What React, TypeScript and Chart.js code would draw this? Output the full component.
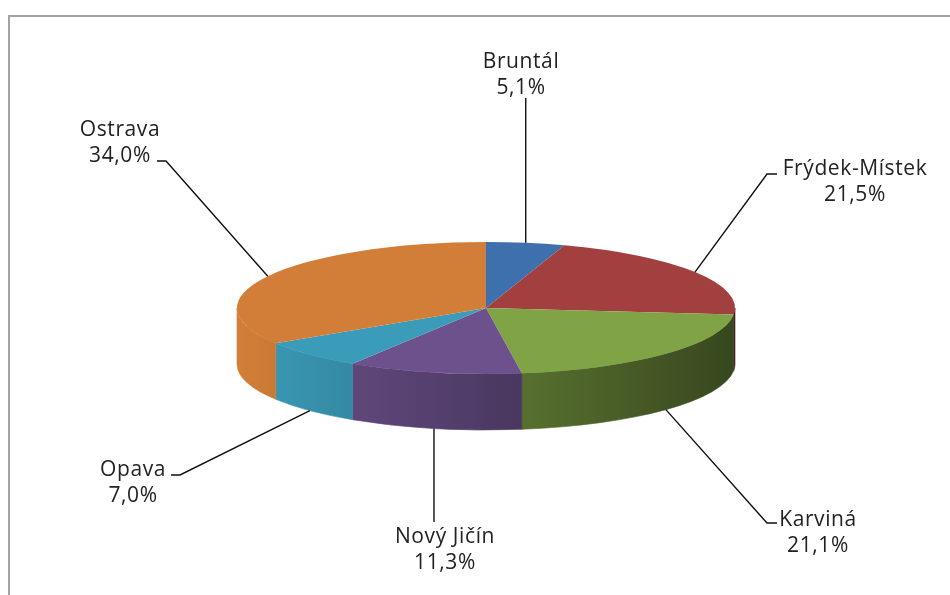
import React, { useEffect, useRef } from "react";
import { Chart, registerables } from "chart.js";

Chart.register(...registerables);

const categories = ["Bruntál", "Frýdek-Místek", "Karviná", "Nový Jičín", "Opava", "Ostrava"];
const shares = [5.1, 21.5, 21.1, 11.3, 7.0, 34.0];
const topColors = ["#3F70AE", "#A2403F", "#80A445", "#6C518C", "#3B9CBA", "#D27E38"];

// label layout (text centre x, first baseline y, leader points from text to slice)
const labelLayout = [
  { x: 521, y: 68, leader: [["a", 98]] },
  { x: 855, y: 175, leader: [[777, 174], [767, 174]] },
  { x: 818, y: 526, leader: [[777, 523], [767, 523]] },
  { x: 445, y: 543, leader: [["a", 522]] },
  { x: 133, y: 476, leader: [[171, 475], [180, 475]] },
  { x: 120, y: 136, leader: [[157, 161], [166, 161]] },
];

const TILT = 66 / 249;
const DEPTH = 56;

function hexToRgb(h: string) {
  const n = parseInt(h.slice(1), 16);
  return [(n >> 16) & 255, (n >> 8) & 255, n & 255];
}
function shade(h: string, f: number) {
  const [r, g, b] = hexToRgb(h);
  return `rgb(${Math.round(r * f)},${Math.round(g * f)},${Math.round(b * f)})`;
}

const pie3d = {
  id: "pie3d",
  beforeDraw(chart: any) {
    const ctx = chart.ctx;
    ctx.save();
    ctx.strokeStyle = "#a3a3a3";
    ctx.lineWidth = 2;
    ctx.beginPath();
    ctx.moveTo(9, 595);
    ctx.lineTo(9, 16);
    ctx.lineTo(950, 16);
    ctx.stroke();
    ctx.restore();
  },
  beforeDatasetsDraw(chart: any) {
    const ctx = chart.ctx;
    const meta = chart.getDatasetMeta(0);
    const a0 = meta.data[0];
    const cx = a0.x, cy = a0.y, r = a0.outerRadius;
    const ry = r * TILT;
    ctx.save();
    meta.data.forEach((arc: any, i: number) => {
      const s = Math.max(arc.startAngle, 0);
      const e = Math.min(arc.endAngle, Math.PI);
      if (e <= s) return;
      const g = ctx.createLinearGradient(cx - r, 0, cx + r, 0);
      for (let k = 0; k <= 10; k++) {
        const t = k / 10;
        g.addColorStop(t, shade(topColors[i], 1.0 - 0.57 * Math.pow(t, 1.05)));
      }
      ctx.beginPath();
      ctx.ellipse(cx, cy, r, ry, 0, s, e, false);
      ctx.ellipse(cx, cy + DEPTH, r, ry, 0, e, s, true);
      ctx.closePath();
      ctx.fillStyle = g;
      ctx.fill();
      ctx.strokeStyle = g;
      ctx.lineWidth = 0.6;
      ctx.stroke();
    });
    ctx.restore();
    ctx.save();
    ctx.translate(cx, cy);
    ctx.scale(1, TILT);
    ctx.translate(-cx, -cy);
  },
  afterDatasetsDraw(chart: any) {
    const ctx = chart.ctx;
    ctx.restore();
    const meta = chart.getDatasetMeta(0);
    const a0 = meta.data[0];
    const cx = a0.x, cy = a0.y, r = a0.outerRadius;
    const ry = r * TILT;
    ctx.save();
    meta.data.forEach((arc: any, i: number) => {
      const mid = (arc.startAngle + arc.endAngle) / 2;
      let norm = mid % (2 * Math.PI);
      if (norm < 0) norm += 2 * Math.PI;
      const ax = cx + r * Math.cos(mid);
      const ay = cy + ry * Math.sin(mid) + (norm > 0 && norm < Math.PI ? DEPTH : 0);
      const lay = labelLayout[i];
      ctx.strokeStyle = "#111";
      ctx.lineWidth = 1.4;
      ctx.beginPath();
      lay.leader.forEach((p: any, j: number) => {
        const px = p[0] === "a" ? ax : p[0];
        if (j === 0) ctx.moveTo(px, p[1]);
        else ctx.lineTo(px, p[1]);
      });
      ctx.lineTo(ax, ay);
      ctx.stroke();
      ctx.fillStyle = "#222";
      ctx.font = '21px "Open Sans"';
      (ctx as any).letterSpacing = "0.6px";
      ctx.textAlign = "center";
      ctx.textBaseline = "alphabetic";
      ctx.fillText(categories[i], lay.x, lay.y);
      ctx.fillText(shares[i].toFixed(1).replace(".", ",") + "%", lay.x, lay.y + 26);
    });
    ctx.restore();
  },
};

export default function App() {
  const ref = useRef<HTMLCanvasElement>(null);
  useEffect(() => {
    if (!ref.current) return;
    const chart = new Chart(ref.current, {
      type: "pie",
      data: {
        labels: categories,
        datasets: [
          {
            data: shares,
            backgroundColor: topColors,
            borderWidth: 0,
            clip: false as any,
          },
        ],
      },
      options: {
        responsive: false,
        animation: false,
        layout: { padding: { left: 237, right: 215, top: 59, bottom: 38 } },
        plugins: { legend: { display: false }, tooltip: { enabled: false } },
        events: [],
      },
      plugins: [pie3d],
    });
    return () => chart.destroy();
  }, []);
  return (
    <div style={{ position: "fixed", left: 0, top: 0, width: 950, height: 595, background: "#fff" }}>
      <canvas ref={ref} width={950} height={595} style={{ width: 950, height: 595 }} />
    </div>
  );
}
